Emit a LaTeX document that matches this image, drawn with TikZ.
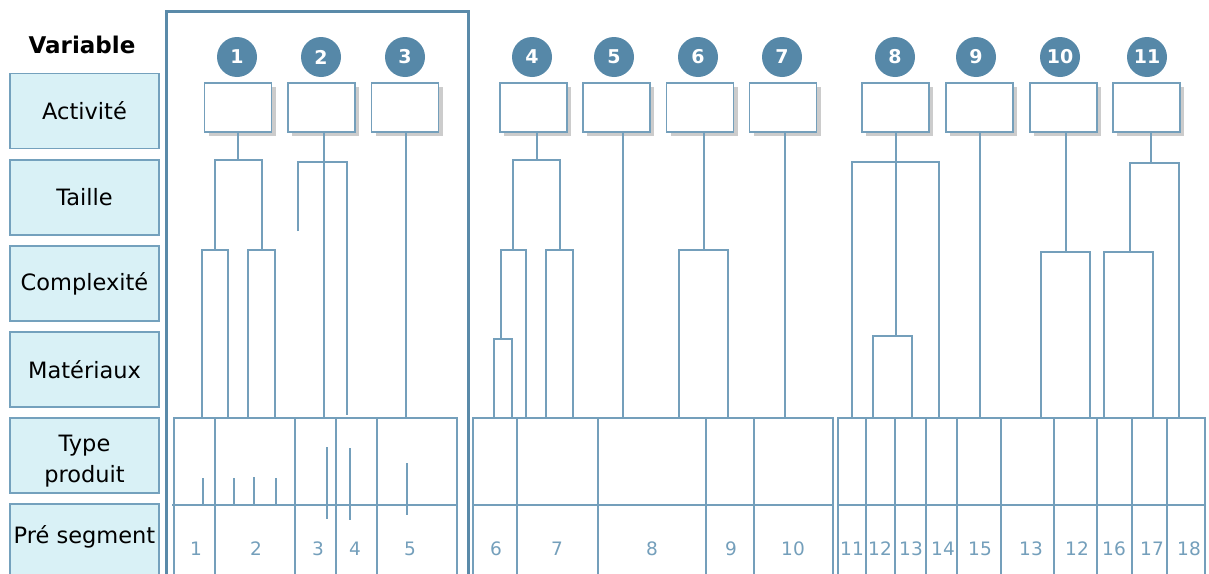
\documentclass[tikz,border=0pt]{standalone}
\usepackage{fontspec}
\setmainfont{DejaVu Sans}
\usetikzlibrary{shadows}
\definecolor{treeblue}{HTML}{749FBB}
\definecolor{frameblue}{HTML}{5A8AA9}
\definecolor{dotblue}{HTML}{5688A8}
\definecolor{varfill}{HTML}{D9F1F6}
\definecolor{vardraw}{HTML}{74A1BD}
\tikzset{
  varbox/.style={draw=vardraw, fill=varfill, line width=1.6pt, minimum width=149pt,
    minimum height=75pt, inner sep=0pt, align=center, font=\fontsize{22.5}{31}\selectfont},
  vartext/.style={align=center, inner sep=0pt, font=\fontsize{22.5}{31}\selectfont},
  actbox/.style={draw=treeblue, fill=white, line width=1.6pt, minimum width=67pt,
    minimum height=49pt, inner sep=0pt,
    drop shadow={shadow xshift=4pt, shadow yshift=-4pt, fill=gray, opacity=0.4}},
  num/.style={circle, fill=dotblue, minimum size=40pt, inner sep=0pt, text=white,
    font=\bfseries\fontsize{19}{19}\selectfont},
  dendro/.style={draw=treeblue, line width=1.7pt},
  segline/.style={draw=treeblue, line width=1.6pt},
  seg/.style={text=treeblue, font=\fontsize{18.5}{18.5}\selectfont, inner sep=0pt}
}

\begin{document}
\begin{tikzpicture}[x=1pt, y=-1pt]
  \clip (0,0) rectangle (1209,573);
  \fill[white] (0,0) rectangle (1209,573);

  % variables column
  \node[font=\bfseries\fontsize{23}{23}\selectfont] (var) at (82,45) {Variable};
  \node[varbox] (act) at (84.5,111) {Activité};
  \node[varbox] (tai) at (84.5,197.5) {Taille};
  \node[varbox] (cpx) at (84.5,283.5) {Complexité};
  \node[varbox] (mat) at (84.5,369.5) {Matériaux};
  \node[varbox] (typ) at (84.5,455.5) {};
  \node[vartext] (typt) at (84.5,461) {Type\\produit};
  \node[varbox, text depth=14pt] (pre) at (84.5,541.5) {Pré segment};

  \draw[frameblue, line width=3pt] (166,11) rectangle (468,600);

  % segment tables
  \draw[segline] (174,418) rectangle (457,600) (172,505) -- (457,505);
  \foreach \x in {215,295,336,377} \draw[segline] (\x,418) -- (\x,600);
  \draw[segline] (473,418) rectangle (833,600) (473,505) -- (833,505);
  \foreach \x in {517,598,706,754} \draw[segline] (\x,418) -- (\x,600);
  \draw[segline] (838,418) rectangle (1205,600) (838,505) -- (1205,505);
  \foreach \x in {866,895,926,957,1001,1054,1097,1132,1167} \draw[segline] (\x,418) -- (\x,600);

  \foreach \n/\x/\t in {1/196/1,2/256/2,3/318/3,4/355/4,5/410/5,6/496/6,7/557/7,
      8/652/8,9/731/9,10/793/10,11/852/11,12/880/12,13/911/13,14/943/14,15/980/15,
      16/1031/13,17/1077/12,18/1114/16,19/1152/17,20/1189/18}
    \node[seg] (s\n) at (\x,549) {\t};

  % numbered activities
  \foreach \n/\x in {1/237,2/321,3/405,4/532,5/614,6/698,7/782,8/895,9/976,10/1060,11/1147}
    \node[num] (c\n) at (\x,57) {\n};
  \foreach \n/\x in {1/238,2/321.5,3/405,4/533.5,5/616.5,6/700,7/783,8/895.5,9/979.5,10/1063.5,11/1146.5}
    \node[actbox] (b\n) at (\x,107.5) {};

  % leaves on the table top
  \foreach \n/\x in {1/202,2/228,3/248,4/275,5/324,7/406,8/494,9/512,10/526,11/546,12/573,
      13/623,14/679,15/728,16/785,17/852,18/873,19/912,20/939,21/980,22/1041,23/1090,
      24/1104,25/1153,26/1179}
    \coordinate (f\n) at (\x,418);
  \coordinate (f6) at (347,415);

  % 1
  \coordinate (k1) at (238,160);
  \coordinate (k1a) at (215,250);
  \coordinate (k1b) at (262,250);
  \draw[dendro] (b1.south -| k1) -- (k1);
  \draw[dendro] (k1a) |- (k1) -| (k1b);
  \draw[dendro] (f1) |- (k1a) -| (f2);
  \draw[dendro] (f3) |- (k1b) -| (f4);
  % 2
  \coordinate (k2) at (324,162);
  \coordinate (d2) at (298,231);
  \draw[dendro] (b2.south -| f5) -- (f5);
  \draw[dendro] (d2) |- (k2) -| (f6);
  % 3
  \draw[dendro] (b3.south -| f7) -- (f7);
  % 4
  \coordinate (k4) at (537,160);
  \coordinate (k4a) at (513,250);
  \coordinate (k4b) at (560,250);
  \coordinate (k4c) at (501,339);
  \draw[dendro] (b4.south -| k4) -- (k4);
  \draw[dendro] (k4a) |- (k4) -| (k4b);
  \draw[dendro] (k4c) |- (k4a) -| (f10);
  \draw[dendro] (f8) |- (k4c) -| (f9);
  \draw[dendro] (f11) |- (k4b) -| (f12);
  % 5
  \draw[dendro] (b5.south -| f13) -- (f13);
  % 6
  \coordinate (k6) at (704,250);
  \draw[dendro] (b6.south -| k6) -- (k6);
  \draw[dendro] (f14) |- (k6) -| (f15);
  % 7
  \draw[dendro] (b7.south -| f16) -- (f16);
  % 8
  \coordinate (k8) at (896,162);
  \coordinate (k8a) at (896,336);
  \draw[dendro] (b8.south -| k8a) -- (k8a);
  \draw[dendro] (f17) |- (k8) -| (f20);
  \draw[dendro] (f18) |- (k8a) -| (f19);
  % 9
  \draw[dendro] (b9.south -| f21) -- (f21);
  % 10
  \coordinate (k10) at (1066,252);
  \draw[dendro] (b10.south -| k10) -- (k10);
  \draw[dendro] (f22) |- (k10) -| (f23);
  % 11
  \coordinate (k11) at (1151,163);
  \coordinate (k11a) at (1130,252);
  \draw[dendro] (b11.south -| k11) -- (k11);
  \draw[dendro] (k11a) |- (k11) -| (f26);
  \draw[dendro] (f24) |- (k11a) -| (f25);

  % product type marks
  \foreach \x/\a/\b in {203/478/505,234/478/505,254/477/505,276/478/505,
      327/447/519,350/448/520,407/463/515}
    \draw[dendro] (\x,\a) -- (\x,\b);
\end{tikzpicture}
\end{document}
